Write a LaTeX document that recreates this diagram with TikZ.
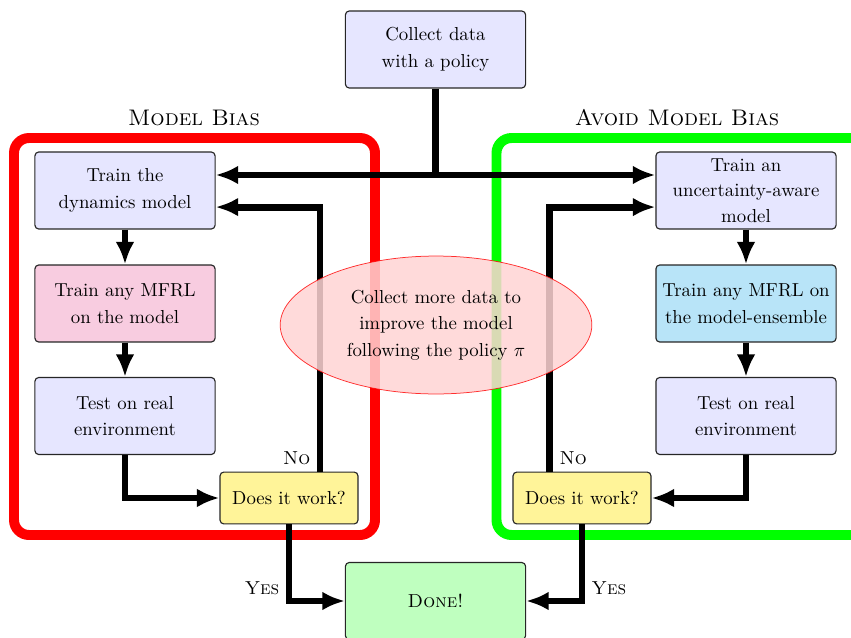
\documentclass[tikz,border=0pt]{standalone}
\usetikzlibrary{shapes.geometric,arrows.meta}
\definecolor{lavender}{RGB}{230,230,255}
\definecolor{pinkbox}{RGB}{248,204,224}
\definecolor{skybox}{RGB}{184,228,248}
\definecolor{yellowbox}{RGB}{255,244,153}
\definecolor{greenbox}{RGB}{191,255,191}
\definecolor{ellfill}{RGB}{255,212,212}

\begin{document}
\begin{tikzpicture}[x=0.0187cm,y=-0.0187cm,thick,
    box/.style={draw=black!85,semithick,rounded corners=2pt,align=center,font=\fontsize{10}{14.2}\selectfont,minimum width=3.37cm,minimum height=1.44cm,fill=lavender},
    ask/.style={box,fill=yellowbox,minimum width=2.58cm,minimum height=0.97cm},
    frame/.style={line width=5.3pt,rounded corners=8pt},
    flow/.style={line width=3.7pt,-{Latex[length=12pt,width=10pt]}},
    lbl/.style={font=\scshape}]
    \useasboundingbox (0,0) rectangle (851,637);
    % the two frames
    \draw[frame,red] (14,138) rectangle (375,535);
    \draw[frame,green] (496.5,138) rectangle (900,535);
    \node[font=\large\scshape] (mb) at (194,118) {Model Bias};
    \node[font=\large\scshape] (amb) at (677,118) {Avoid Model Bias};

    \node[box] (collect) at (435.5,49.5) {Collect data\\with a policy};
    \node[box] (dyn) at (125,190.5) {Train the\\dynamics model};
    \node[box,fill=pinkbox] (mfrl) at (125,303.5) {Train any MFRL\\on the model};
    \node[box] (testl) at (125,416) {Test on real\\environment};
    \node[box,font=\fontsize{10}{13.6}\selectfont] (unc) at (746,190.5) {Train an\\uncertainty-aware\\model};
    \node[box,fill=skybox] (mfrlr) at (746,303.5) {Train any MFRL on\\the model-ensemble};
    \node[box] (testr) at (746,416) {Test on real\\environment};
    \node[ask] (workl) at (289,498) {Does it work?};
    \node[ask] (workr) at (582,498) {Does it work?};
    \node[box,fill=greenbox] (done) at (435.5,601) {\textsc{Done!}};

    \coordinate (split) at (435.5,175);
    \draw[flow,-] (collect.south) -- (split);
    \draw[flow] (split) -- (dyn.east |- split);
    \draw[flow] (split) -- (unc.west |- split);
    \draw[flow] (dyn) -- (mfrl);
    \draw[flow] (mfrl) -- (testl);
    \draw[flow] (unc) -- (mfrlr);
    \draw[flow] (mfrlr) -- (testr);
    \draw[flow] (testl.south) |- (workl.west);
    \draw[flow] (testr.south) |- (workr.east);
    \draw[flow] ([xshift=0.58cm]workl.north) |- node[lbl,pos=0.025,left]{No} ([yshift=-0.31cm]dyn.east);
    \draw[flow] ([xshift=-0.6cm]workr.north) |- node[lbl,pos=0.025,right]{No} ([yshift=-0.31cm]unc.west);
    \draw[flow] (workl.south) |- node[lbl,pos=0.415,left]{Yes} (done.west);
    \draw[flow] (workr.south) |- node[lbl,pos=0.415,right]{Yes} (done.east);

    \node[ellipse,draw=red,thin,draw opacity=0.8,fill=ellfill,fill opacity=0.85,text opacity=1,align=center,font=\fontsize{10}{14.2}\selectfont,minimum width=5.83cm,minimum height=2.58cm] (more) at (436,325) {Collect more data to\\improve the model\\following the policy $\pi$};
\end{tikzpicture}
\end{document}
